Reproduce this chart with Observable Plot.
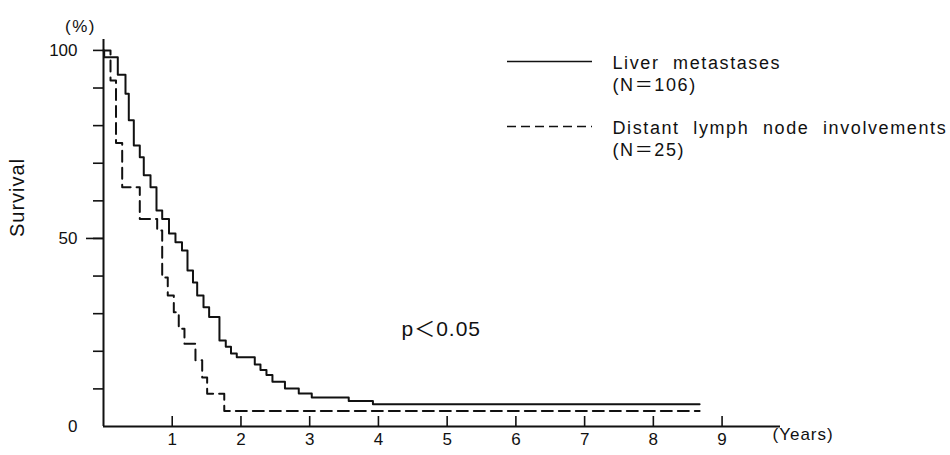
<!DOCTYPE html>
<html>
<head>
<meta charset="utf-8">
<script src="https://cdn.jsdelivr.net/npm/d3@7"></script>
<script src="https://cdn.jsdelivr.net/npm/@observablehq/plot@0.6"></script>
<style>
  html, body { margin: 0; padding: 0; background: #fff; }
  #chart svg { display: block; }
</style>
</head>
<body>
<div id="chart"></div>
<script>
// Kaplan–Meier survival (%)
const liverYears    = [0, 0.01, 0.208, 0.32, 0.368, 0.441, 0.528, 0.586, 0.684, 0.771, 0.854, 0.953, 1.047, 1.142, 1.222, 1.302, 1.363, 1.455, 1.537, 1.687, 1.779, 1.855, 1.939, 2.201, 2.284, 2.371, 2.458, 2.64, 2.841, 3.03, 3.568, 3.92, 8.673];
const liverSurvival = [100, 98.2, 93.5, 88.5, 81.4, 74.7, 71.6, 66.8, 63.6, 57.4, 55.2, 51.3, 49.0, 46.8, 41.5, 38.3, 34.8, 31.7, 29.1, 22.9, 21.2, 19.4, 18.4, 16.5, 15.0, 13.7, 11.9, 10.1, 8.8, 7.7, 6.8, 5.9, 5.9];

const lymphYears    = [0, 0.102, 0.182, 0.272, 0.528, 0.781, 0.854, 0.935, 1.023, 1.095, 1.178, 1.338, 1.436, 1.508, 1.757, 8.673];
const lymphSurvival = [100, 92.0, 75.4, 63.6, 55.2, 52.1, 39.6, 34.8, 30.4, 26.0, 22.0, 17.6, 13.0, 8.7, 4.1, 4.1];

const xTickValues = [1, 2, 3, 4, 5, 6, 7, 8, 9];
const yMinorTicks = [10, 20, 30, 40, 50, 60, 70, 80, 90, 100];
const yMajorTicks = [50];
const yLabelTicks = [0, 50, 100];
const legendNames = ["Liver metastases", "Distant lymph node involvements"];
const legendCounts = ["(N＝106)", "(N＝25)"];
const pText = "p＜0.05";

const liver = liverYears.map((t, i) => ({t, s: liverSurvival[i]}));
const lymph = lymphYears.map((t, i) => ({t, s: lymphSurvival[i]}));

const font = "'Liberation Sans', Arial, Helvetica, 'Noto Sans CJK JP', sans-serif";
const ink = "#111";

const legendText = (label, dy) =>
  Plot.text([label], {text: d => d, frameAnchor: "top-left", textAnchor: "start", dx: 509, dy, fontSize: 18});

const chart = Plot.plot({
  width: 950,
  height: 455,
  marginLeft: 103,
  marginRight: 170,
  marginTop: 39,
  marginBottom: 29,
  style: {fontFamily: font, fontSize: "17px", color: ink, background: "#fff", overflow: "visible"},
  x: {domain: [0, 9.85], label: null},
  y: {domain: [0, 102.9], label: null},
  marks: [
    // y axis ticks (outside, left)
    Plot.axisY({ticks: yMinorTicks, tickSize: 10, tickFormat: () => "", strokeWidth: 1.6, label: null}),
    Plot.axisY({ticks: yMajorTicks, tickSize: 17, tickFormat: () => "", strokeWidth: 1.6, label: null}),
    Plot.axisY({ticks: yLabelTicks, tickSize: 0, tickPadding: 26, fontSize: 17, label: null}),
    // x axis ticks (inside, upward)
    Plot.tickX(xTickValues, {x: d => d, insetTop: 377, strokeWidth: 1.6, stroke: ink}),
    Plot.axisX({ticks: xTickValues, tickSize: 0, tickPadding: 6, fontSize: 17, label: null}),
    // axis lines
    Plot.ruleX([0], {stroke: ink, strokeWidth: 2}),
    Plot.ruleY([0], {stroke: ink, strokeWidth: 2}),
    // survival curves
    Plot.line(liver, {x: "t", y: "s", curve: "step-after", stroke: ink, strokeWidth: 2}),
    Plot.line(lymph, {x: "t", y: "s", curve: "step-after", stroke: ink, strokeWidth: 2, strokeDasharray: "11,6"}),
    // axis titles
    Plot.text(["(%)"], {text: d => d, frameAnchor: "top-left", dx: -38.5, dy: -20, fontSize: 17}),
    Plot.text(["Survival"], {text: d => d, frameAnchor: "left", dx: -86, dy: 4, rotate: -90, fontSize: 20}),
    Plot.text(["(Years)"], {text: d => d, frameAnchor: "bottom-right", textAnchor: "start", dx: -8, dy: 13, fontSize: 17}),
    // p value
    Plot.text([pText], {text: d => d, frameAnchor: "bottom-left", textAnchor: "start", dx: 298, dy: -91, fontSize: 21}),
    // legend
    Plot.ruleY([0], {dy: -365, insetLeft: 404, insetRight: 188, stroke: ink, strokeWidth: 1.6}),
    Plot.ruleY([0], {dy: -300, insetLeft: 404, insetRight: 188, stroke: ink, strokeWidth: 1.6, strokeDasharray: "9,5"}),
    legendText(legendNames[0], 17),
    legendText(legendCounts[0], 39),
    legendText(legendNames[1], 82),
    legendText(legendCounts[1], 104)
  ]
});

const spacing = new Map([
  ...legendNames.map(d => [d, ["1.6px", "7px"]]),
  ...legendCounts.map(d => [d, ["1.6px", "0px"]]),
  ["(%)", ["1.5px", "0px"]],
  ["Survival", ["1px", "0px"]],
  ["(Years)", ["1px", "0px"]],
  [pText, ["1px", "0px"]]
]);
d3.select(chart).selectAll("text").each(function () {
  const s = spacing.get(this.textContent);
  if (s) d3.select(this).attr("letter-spacing", s[0]).attr("word-spacing", s[1]);
});

document.getElementById("chart").appendChild(chart);
</script>
</body>
</html>
